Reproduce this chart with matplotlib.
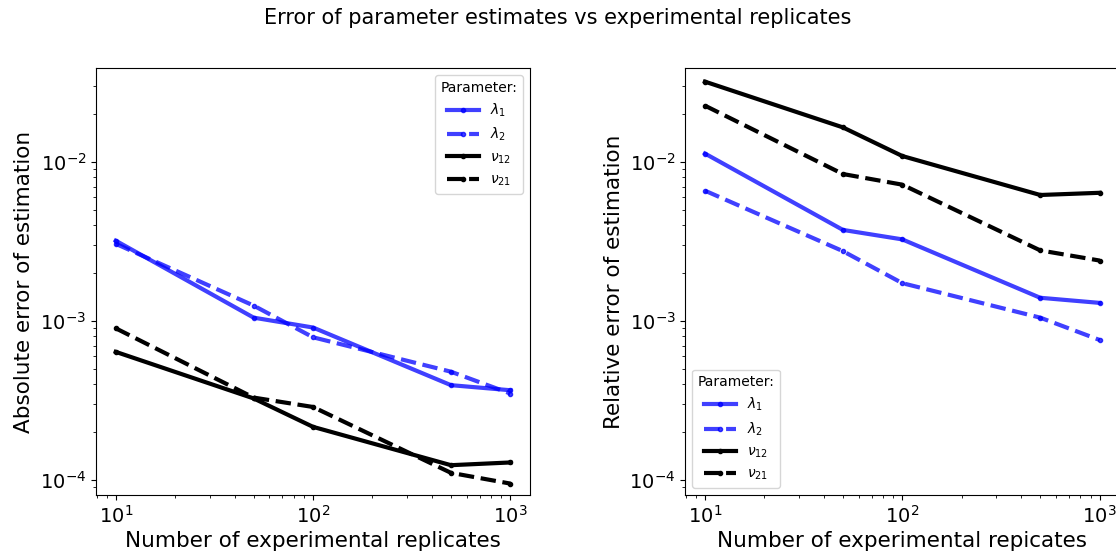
import numpy as np
import matplotlib
matplotlib.use("Agg")
import matplotlib.pyplot as plt

# number of experimental replicates
replicates = [10, 50, 100, 500, 1000]

# absolute error of estimation
abs_lambda1 = [3.2e-3, 1.05e-3, 9.1e-4, 3.95e-4, 3.67e-4]
abs_lambda2 = [3.06e-3, 1.25e-3, 7.9e-4, 4.8e-4, 3.5e-4]
abs_nu12 = [6.4e-4, 3.26e-4, 2.16e-4, 1.24e-4, 1.29e-4]
abs_nu21 = [9.0e-4, 3.3e-4, 2.88e-4, 1.11e-4, 9.5e-5]

# relative error of estimation
rel_lambda1 = [1.13e-2, 3.74e-3, 3.26e-3, 1.40e-3, 1.30e-3]
rel_lambda2 = [6.6e-3, 2.75e-3, 1.73e-3, 1.05e-3, 7.6e-4]
rel_nu12 = [3.2e-2, 1.65e-2, 1.09e-2, 6.2e-3, 6.4e-3]
rel_nu21 = [2.26e-2, 8.4e-3, 7.2e-3, 2.78e-3, 2.4e-3]

labels = [r"$\lambda_1$", r"$\lambda_2$", r"$\nu_{12}$", r"$\nu_{21}$"]
styles = [("blue", "-", 0.75), ("blue", "--", 0.75), ("black", "-", 1.0), ("black", "--", 1.0)]

fig = plt.figure(figsize=(11.16, 5.54), dpi=100)
ax1 = fig.add_axes([0.086, 0.1065, 0.389, 0.7705])
ax2 = fig.add_axes([0.614, 0.1065, 0.389, 0.7705])

panels = [
    (ax1, [abs_lambda1, abs_lambda2, abs_nu12, abs_nu21],
     "Absolute error of estimation", "Number of experimental replicates", "upper right"),
    (ax2, [rel_lambda1, rel_lambda2, rel_nu12, rel_nu21],
     "Relative error of estimation", "Number of experimental repicates", "lower left"),
]

for ax, series, ylab, xlab, loc in panels:
    for vals, lab, (col, ls, a) in zip(series, labels, styles):
        ax.plot(replicates, vals, color=col, ls=ls, lw=3, alpha=a,
                marker=".", markersize=6, label=lab)
    ax.set_xscale("log")
    ax.set_yscale("log")
    ax.set_ylim(10 ** -4.094, 10 ** -1.41)
    ax.set_xlabel(xlab, fontsize=15.5, labelpad=3)
    ax.set_ylabel(ylab, fontsize=15.5)
    ax.tick_params(labelsize=14)
    ax.legend(title="Parameter:", loc=loc, fontsize=10, title_fontsize=10,
              handlelength=2.3)

fig.suptitle("Error of parameter estimates vs experimental replicates", fontsize=15, y=0.985)

fig.savefig("out.png", dpi=100)
